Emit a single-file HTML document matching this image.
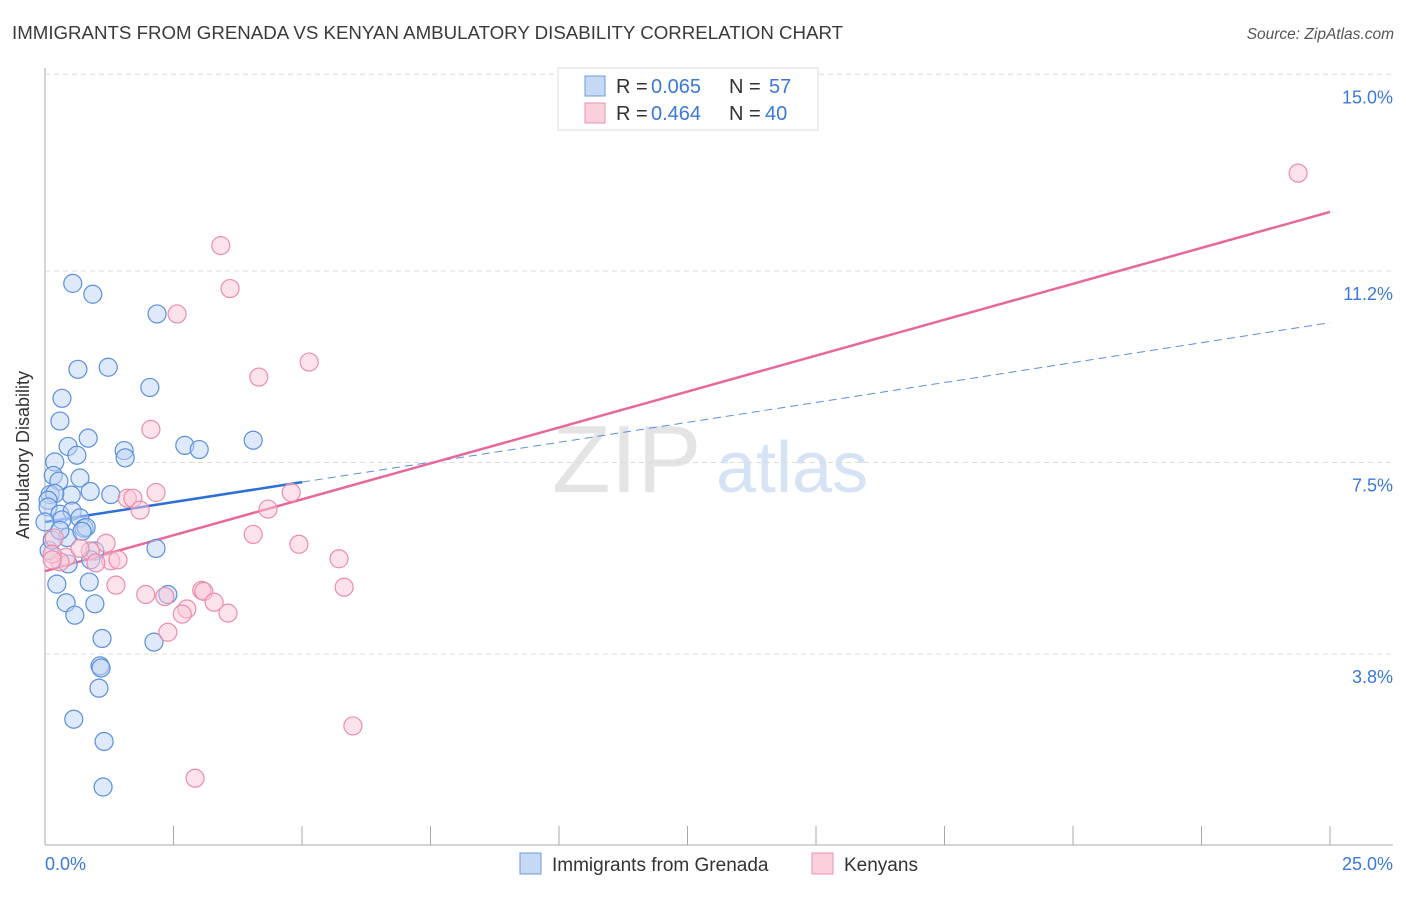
<!DOCTYPE html>
<html><head><meta charset="utf-8"><style>
body{margin:0;background:#fff;font-family:"Liberation Sans",sans-serif;}
svg text{font-family:"Liberation Sans",sans-serif;}
</style></head><body>
<svg id="chart" width="1406" height="892" xmlns="http://www.w3.org/2000/svg">
<text x="12" y="39" font-size="18.7" fill="#3a3a3a">IMMIGRANTS FROM GRENADA VS KENYAN AMBULATORY DISABILITY CORRELATION CHART</text>
<text x="1394" y="39" font-size="15.5" fill="#555" font-style="italic" text-anchor="end">Source: ZipAtlas.com</text>
<g>
<text x="552" y="492" font-size="96" fill="#e4e4e4" font-family="Liberation Serif, serif">ZIP</text>
<text x="716" y="492" font-size="72" fill="#d6e3f5">atlas</text>
</g>
<g id="grid"></g>
<g id="axes"></g>
<g id="lines"></g>
<g id="points"></g>
<text x="29" y="455" font-size="18" fill="#333" text-anchor="middle" transform="rotate(-90 29 455)">Ambulatory Disability</text>
<text x="45" y="870" font-size="18" fill="#3b78d8">0.0%</text>
<text x="1393" y="870" font-size="18" fill="#3b78d8" text-anchor="end">25.0%</text>
<g>
<rect x="558" y="68" width="260" height="62" fill="#fff" stroke="#ddd"/>
<rect x="585" y="76" width="20" height="20" fill="#c5d9f5" stroke="#6a9be0"/>
<text x="616" y="93" font-size="20" fill="#333">R =</text>
<text x="651" y="93" font-size="20" fill="#3b78d8">0.065</text>
<text x="729" y="93" font-size="20" fill="#333">N =</text>
<text x="769" y="93" font-size="20" fill="#3b78d8">57</text>
<rect x="585" y="103" width="20" height="20" fill="#fbd0dd" stroke="#ec8fad"/>
<text x="616" y="120" font-size="20" fill="#333">R =</text>
<text x="651" y="120" font-size="20" fill="#3b78d8">0.464</text>
<text x="729" y="120" font-size="20" fill="#333">N =</text>
<text x="765" y="120" font-size="20" fill="#3b78d8">40</text>
</g>
<g>
<rect x="520" y="853" width="21" height="21" fill="#c5d9f5" stroke="#6a9be0"/>
<text x="552" y="871" font-size="19" fill="#333">Immigrants from Grenada</text>
<rect x="812" y="853" width="21" height="21" fill="#fbd0dd" stroke="#ec8fad"/>
<text x="844" y="871" font-size="19" fill="#333">Kenyans</text>
</g>
</svg>
<script>
const yTicks=[3.8,7.5,11.2,15.0];
const yTickLabels=["3.8%","7.5%","11.2%","15.0%"];
const xTicks=[0,2.5,5,7.5,10,12.5,15,17.5,20,22.5,25];
const blueX=[0.54,0.93,2.18,0.64,1.23,2.04,0.33,0.29,0.45,0.84,0.62,1.54,1.56,2.72,3.00,4.05,0.19,0.16,0.68,0.27,0.51,0.88,1.28,0.10,0.19,0.06,0.06,0.29,0.53,0.33,0.68,0.76,0.80,0.43,0.72,0.97,0.89,2.16,0.45,0.08,0.23,0.86,0.41,0.97,0.58,2.39,1.11,2.12,1.07,1.09,1.05,0.56,1.15,1.13,0.14,0.00,0.29];
const blueY=[10.96,10.75,10.37,9.30,9.34,8.95,8.74,8.30,7.81,7.97,7.64,7.73,7.59,7.83,7.75,7.93,7.51,7.25,7.20,7.14,6.87,6.94,6.88,6.88,6.90,6.77,6.64,6.50,6.56,6.39,6.43,6.23,6.25,6.05,6.17,5.79,5.62,5.84,5.54,5.80,5.15,5.19,4.79,4.77,4.55,4.95,4.10,4.03,3.57,3.53,3.14,2.54,2.11,1.23,6.00,6.35,6.19];
const pinkX=[24.38,3.42,3.60,2.57,5.14,4.16,2.06,2.16,4.79,1.60,1.71,1.85,4.34,4.05,4.94,5.72,1.19,1.28,1.42,0.88,0.41,0.29,0.68,0.18,0.14,1.38,1.96,2.33,3.05,3.09,2.76,2.67,3.29,3.56,5.82,2.39,5.99,2.92,0.14,0.99];
const pinkY=[13.09,11.69,10.86,10.37,9.44,9.15,8.14,6.92,6.92,6.81,6.81,6.58,6.60,6.11,5.92,5.64,5.94,5.60,5.62,5.79,5.67,5.58,5.84,6.04,5.73,5.13,4.95,4.91,5.03,5.01,4.67,4.57,4.80,4.59,5.09,4.22,2.41,1.40,5.62,5.56];
const blueTrend=[6.35,0.154];
const pinkTrend=[5.40,0.2776];
const blueSolidEnd=5;
const NS="http://www.w3.org/2000/svg";
const xs=v=>45+v*(1285/25);
const ys=v=>654-(v-3.8)*51.76;
function mk(tag,attrs,parent){const e=document.createElementNS(NS,tag);for(const k in attrs)e.setAttribute(k,attrs[k]);parent.appendChild(e);return e;}
const grid=document.getElementById('grid'),axes=document.getElementById('axes'),lines=document.getElementById('lines'),pts=document.getElementById('points');
yTicks.forEach((t,i)=>{
 const l=mk('line',{x1:45,x2:1393,y1:ys(t),y2:ys(t),stroke:'#dcdcdc','stroke-dasharray':'5,4'},grid);
 
 
 const tx=mk('text',{x:1393,y:ys(t)+29,'font-size':18,fill:'#3b78d8','text-anchor':'end'},grid);
 tx.textContent=yTickLabels[i];
 
 
});
const ax=mk('line',{x1:45,x2:45,y1:68,y2:845,stroke:'#aaa'},axes);


const bx=mk('line',{x1:45,x2:1393,y1:845,y2:845,stroke:'#aaa'},axes);


xTicks.forEach(t=>{
 const l=mk('line',{x1:xs(t),x2:xs(t),y1:826,y2:845,stroke:'#aaa'},axes);
 
 
});
function drawPts(X,Y,fill,stroke,name){
 X.forEach((x,i)=>{
  const c=mk('circle',{cx:xs(x),cy:ys(Y[i]),r:9,fill:fill,'fill-opacity':0.5,stroke:stroke,'stroke-width':1.2},pts);
  
  
 });
}
drawPts(blueX,blueY,'#bdd4f3','#5b8fdc','grenada-point');
drawPts(pinkX,pinkY,'#f9c8d7','#ea8cab','kenyan-point');
const bl=mk('line',{x1:xs(0),y1:ys(blueTrend[0]),x2:xs(blueSolidEnd),y2:ys(blueTrend[0]+blueTrend[1]*blueSolidEnd),stroke:'#2c6fd6','stroke-width':2.5},lines);


const bd=mk('line',{x1:xs(blueSolidEnd),y1:ys(blueTrend[0]+blueTrend[1]*blueSolidEnd),x2:xs(25),y2:ys(blueTrend[0]+blueTrend[1]*25),stroke:'#5b8fdc','stroke-width':1,'stroke-dasharray':'8,5'},lines);


const pl=mk('line',{x1:xs(0),y1:ys(pinkTrend[0]),x2:xs(25),y2:ys(pinkTrend[0]+pinkTrend[1]*25),stroke:'#e7679a','stroke-width':2.5},lines);


</script>
</body></html>
